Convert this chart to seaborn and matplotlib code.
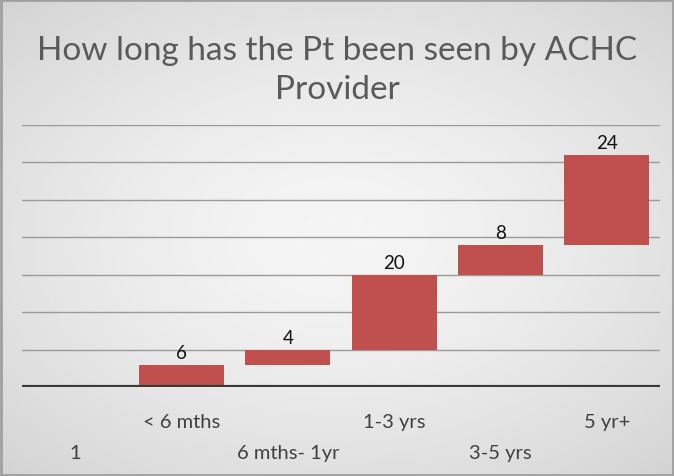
import numpy as np
import pandas as pd
import matplotlib
matplotlib.use("Agg")
import matplotlib.pyplot as plt
import seaborn as sns

# datos
categorias = ["1", "< 6 mths", "6 mths- 1yr", "1-3 yrs", "3-5 yrs", "5 yr+"]
valores = [0, 6, 4, 20, 8, 24]

tmp_1 = pd.DataFrame({"cat": categorias, "val": valores})
tmp_1["base"] = tmp_1["val"].cumsum() - tmp_1["val"]

sns.set_style("white")
plt.rcParams["font.family"] = ["Lato", "DejaVu Sans"]

fig = plt.figure(figsize=(6.74, 4.77), dpi=100)

##fondo con degradado radial
bg = fig.add_axes([0, 0, 1, 1], zorder=-10)
yy, xx = np.mgrid[-1:1:300j, -1:1:400j]
r = np.sqrt(xx**2 * 0.9 + yy**2)
bg.imshow(0.96 - 0.13 * np.clip(r / 1.35, 0, 1) ** 1.5, cmap="gray", vmin=0, vmax=1,
          extent=[0, 1, 0, 1], aspect="auto", interpolation="bilinear")
bg.add_patch(plt.Rectangle((0.002, 0.002), 0.996, 0.996, fill=False, ec="#a0a0a0", lw=2))
bg.set_xlim(0, 1)
bg.set_ylim(0, 1)
bg.axis("off")

ax = fig.add_axes([0.0326, 0.1866, 0.9466, 0.5492])
ax.patch.set_alpha(0)
sns.barplot(data=tmp_1, x="cat", y="val", bottom=tmp_1["base"], color="#c0504d",
            saturation=1, width=0.8, linewidth=0, edgecolor="none", ax=ax, zorder=3)

for i, row in tmp_1.iterrows():
    if row["val"] > 0:
        ax.text(i, row["base"] + row["val"] + 1.0, str(row["val"]), ha="center",
                va="bottom", fontsize=13.5, color="#111111")

ax.set_ylim(0, 70)
ax.set_xlim(-0.5, 5.5)
ax.set_yticks(np.arange(10, 71, 10))
ax.yaxis.grid(True, color="#9a9a9a", lw=1)
ax.set_axisbelow(True)
ax.tick_params(axis="y", left=False, labelleft=False)
ax.tick_params(axis="x", length=0, labelsize=14.5, labelcolor="#404040")
for i, tick in enumerate(ax.xaxis.get_major_ticks()):
    tick.set_pad(19 if i % 2 == 1 else 41)
ax.axhline(0, color="#3a3a3a", lw=3, zorder=4)
for s in ax.spines.values():
    s.set_visible(False)
ax.set_xlabel("")
ax.set_ylabel("")

fig.text(0.5, 0.852, "How long has the Pt been seen by ACHC\nProvider", ha="center",
         va="center", fontsize=24, color="#5a5a5a", linespacing=1.38)

plt.savefig("out.png", dpi=100)
